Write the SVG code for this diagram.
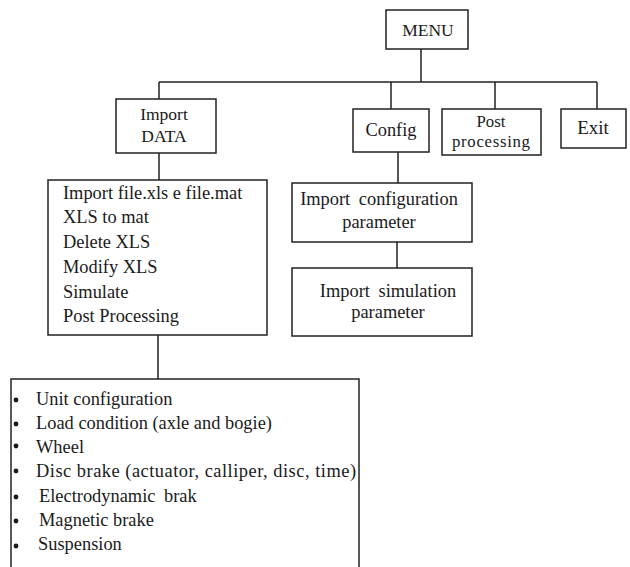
<svg xmlns="http://www.w3.org/2000/svg" width="630" height="567" viewBox="0 0 630 567">
<style>
  .box { fill: #fff; stroke: #222; stroke-width: 1.5; }
  .ln { fill: none; stroke: #222; stroke-width: 1.5; }
  .t { font-family: 'Liberation Serif', 'Times New Roman', 'DejaVu Serif', serif; font-size: 18.4px; fill: #1a1a1a; }
  .s { font-size: 17.5px; }
  .p { font-size: 16.8px; }
  .c { text-anchor: middle; }
  .dot { fill: #1a1a1a; }
</style>
<rect width="630" height="567" fill="#fff"/>
<g id="connectors">
  <path class="ln" d="M421,49 V82 M159,82 H597 M159,82 V99 M391,82 V109 M495,82 V109 M597,82 V109"/>
  <path class="ln" d="M159,153 V180 M158,335 V379"/>
  <path class="ln" d="M398,152 V183 M397,242 V268"/>
</g>
<g id="menu">
  <rect class="box" x="386" y="10" width="82" height="39"/>
  <text class="t s c" x="428" y="36">MENU</text>
</g>
<g id="import-data">
  <rect class="box" x="116" y="99" width="100" height="54"/>
  <text class="t s c" x="164" y="120">Import</text>
  <text class="t s c" x="164" y="142">DATA</text>
</g>
<g id="config">
  <rect class="box" x="353" y="109" width="76" height="43"/>
  <text class="t c" x="391" y="136">Config</text>
</g>
<g id="post-processing">
  <rect class="box" x="442" y="109" width="99" height="46"/>
  <text class="t p c" x="491" y="127">Post</text>
  <text class="t p c" x="491" y="147" textLength="78" lengthAdjust="spacing">processing</text>
</g>
<g id="exit">
  <rect class="box" x="561" y="109" width="65" height="39"/>
  <text class="t c" x="593" y="134" style="font-size:19px">Exit</text>
</g>
<g id="import-menu">
  <rect class="box" x="48" y="180" width="219" height="155"/>
  <text class="t" x="63" y="199">Import file.xls e file.mat</text>
  <text class="t" x="63" y="223">XLS to mat</text>
  <text class="t" x="63" y="248">Delete XLS</text>
  <text class="t" x="63" y="273">Modify XLS</text>
  <text class="t" x="63" y="298">Simulate</text>
  <text class="t" x="63" y="322">Post Processing</text>
</g>
<g id="config-param">
  <rect class="box" x="292" y="183" width="180" height="59"/>
  <text class="t c" x="379" y="205" word-spacing="4">Import configuration</text>
  <text class="t c" x="379" y="228">parameter</text>
</g>
<g id="sim-param">
  <rect class="box" x="292" y="268" width="180" height="68"/>
  <text class="t c" x="388" y="297" word-spacing="4">Import simulation</text>
  <text class="t c" x="388" y="318">parameter</text>
</g>
<g id="data-list">
  <path class="box" d="M11,570 V379 H359 V570"/>
  <circle class="dot" cx="16" cy="400" r="2.4"/>
  <text class="t" x="36" y="405">Unit configuration</text>
  <circle class="dot" cx="16" cy="424" r="2.4"/>
  <text class="t" x="36" y="429">Load condition (axle and bogie)</text>
  <circle class="dot" cx="16" cy="446" r="2.4"/>
  <text class="t" x="36" y="453">Wheel</text>
  <circle class="dot" cx="16" cy="471" r="2.4"/>
  <text class="t" x="36" y="477" textLength="320" lengthAdjust="spacing">Disc brake (actuator, calliper, disc, time)</text>
  <circle class="dot" cx="16" cy="497" r="2.4"/>
  <text class="t" x="39" y="502" word-spacing="4">Electrodynamic brak</text>
  <circle class="dot" cx="16" cy="521" r="2.4"/>
  <text class="t" x="39" y="526">Magnetic brake</text>
  <circle class="dot" cx="16" cy="546" r="2.4"/>
  <text class="t" x="38" y="550">Suspension</text>
</g>
</svg>
